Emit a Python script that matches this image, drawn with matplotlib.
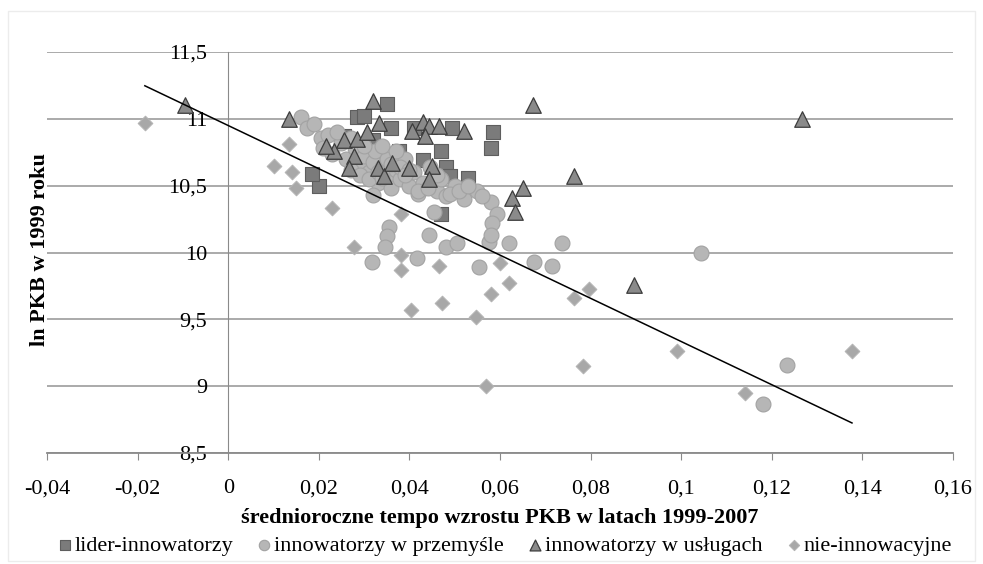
import numpy as np
import matplotlib
matplotlib.use("Agg")
import matplotlib.pyplot as plt
from matplotlib.ticker import FuncFormatter

plt.rcParams['font.family'] = ['Liberation Serif', 'DejaVu Serif']

# lider-innowatorzy (squares)
lider_x = [0.035, 0.0285, 0.030, 0.036, 0.041, 0.0495, 0.0585, 0.058, 0.047, 0.048,
           0.049, 0.053, 0.047, 0.020, 0.0185, 0.0256, 0.032, 0.0377, 0.043, 0.0455, 0.033]
lider_y = [11.11, 11.01, 11.02, 10.93, 10.93, 10.93, 10.90, 10.78, 10.76, 10.64,
           10.57, 10.56, 10.29, 10.50, 10.59, 10.87, 10.84, 10.76, 10.69, 10.54, 10.69]

# innowatorzy w przemyśle (circles)
przem_x = [0.016, 0.0175, 0.019, 0.0205, 0.022, 0.021, 0.023, 0.025, 0.026, 0.028,
           0.029, 0.030, 0.031, 0.032, 0.0325, 0.033, 0.034, 0.035, 0.0355, 0.036,
           0.037, 0.038, 0.039, 0.040, 0.041, 0.042, 0.043, 0.0445, 0.046, 0.047,
           0.048, 0.050, 0.052, 0.055, 0.058, 0.0594, 0.0583, 0.032, 0.0355, 0.035,
           0.0347, 0.0318, 0.0417, 0.0444, 0.048, 0.0505, 0.0554, 0.0576, 0.058, 0.062,
           0.0675, 0.0715, 0.0737, 0.1044, 0.1234, 0.118, 0.042, 0.0455,
           0.027, 0.029, 0.031, 0.033, 0.034, 0.036, 0.038, 0.040, 0.030, 0.034,
           0.037, 0.039, 0.044, 0.046, 0.049, 0.051, 0.053, 0.056, 0.024, 0.027]
przem_y = [11.01, 10.93, 10.96, 10.86, 10.88, 10.78, 10.74, 10.82, 10.70, 10.78,
           10.66, 10.72, 10.60, 10.68, 10.76, 10.52, 10.64, 10.70, 10.58, 10.48,
           10.62, 10.55, 10.70, 10.50, 10.60, 10.44, 10.52, 10.64, 10.46, 10.55,
           10.42, 10.50, 10.40, 10.46, 10.38, 10.29, 10.22, 10.43, 10.19, 10.12,
           10.04, 9.93, 9.96, 10.13, 10.04, 10.07, 9.89, 10.08, 10.13, 10.07,
           9.93, 9.90, 10.07, 10.00, 9.16, 8.87, 10.46, 10.30,
           10.62, 10.58, 10.55, 10.60, 10.56, 10.66, 10.64, 10.62, 10.80, 10.80,
           10.76, 10.58, 10.48, 10.58, 10.44, 10.46, 10.50, 10.42, 10.90, 10.86]

# innowatorzy w usługach (triangles)
uslugi_x = [-0.0095, 0.0135, 0.032, 0.0333, 0.043, 0.0444, 0.0466, 0.052, 0.0406, 0.0435,
            0.0673, 0.1267, 0.0764, 0.065, 0.0627, 0.0633, 0.0896, 0.0234, 0.0256, 0.0285,
            0.0307, 0.0278, 0.0267, 0.033, 0.0344, 0.0362, 0.040, 0.045, 0.0444, 0.0216]
uslugi_y = [11.10, 11.00, 11.13, 10.97, 10.98, 10.95, 10.95, 10.91, 10.91, 10.87,
            11.10, 11.00, 10.57, 10.48, 10.41, 10.30, 9.76, 10.76, 10.84, 10.85,
            10.90, 10.72, 10.63, 10.63, 10.57, 10.67, 10.63, 10.65, 10.55, 10.80]

# nie-innowacyjne (diamonds)
nie_x = [-0.0183, 0.0102, 0.0135, 0.014, 0.015, 0.023, 0.0278, 0.0382, 0.0382, 0.0382,
         0.0466, 0.0404, 0.0472, 0.0547, 0.058, 0.057, 0.062, 0.060, 0.0764, 0.0797,
         0.0784, 0.099, 0.114, 0.1377]
nie_y = [10.97, 10.65, 10.81, 10.60, 10.48, 10.33, 10.04, 10.29, 9.98, 9.87,
         9.90, 9.57, 9.62, 9.52, 9.69, 9.00, 9.77, 9.92, 9.66, 9.73,
         9.15, 9.26, 8.95, 9.26]

# linear trend
trend_a, trend_b = -16.16, 10.95
trend_range = [-0.0184, 0.1377]

labels = ['lider-innowatorzy', 'innowatorzy w przemyśle',
          'innowatorzy w usługach', 'nie-innowacyjne']

fig = plt.figure(figsize=(9.83, 5.64), dpi=100)
ax = fig.add_axes([47/983, 1-453/564, 906/983, 401/564])

h1 = ax.scatter(lider_x, lider_y, marker='s', s=90, c='#7b7b7b', edgecolors='#5e5e5e', lw=0.8, zorder=3)
h2 = ax.scatter(przem_x, przem_y, marker='o', s=115, c='#b6b6b6', edgecolors='#a2a2a2', lw=0.8, zorder=3)
h3 = ax.scatter(uslugi_x, uslugi_y, marker='^', s=125, c='#8a8a8a', edgecolors='#3c3c3c', lw=0.9, zorder=3)
h4 = ax.scatter(nie_x, nie_y, marker='D', s=55, c='#a8a8a8', edgecolors='#b4b4b4', lw=0.8, zorder=3)

tx = np.array(trend_range)
ax.plot(tx, trend_a*tx + trend_b, color='black', lw=1.1, zorder=4)

ax.set_xlim(-0.04, 0.16)
ax.set_ylim(8.5, 11.5)
ax.set_xticks(np.arange(-0.04, 0.161, 0.02))
ax.set_yticks(np.arange(8.5, 11.51, 0.5))
fmt = FuncFormatter(lambda v, p: ('%g' % round(v, 4)).replace('.', ','))
ax.xaxis.set_major_formatter(fmt)
ax.yaxis.set_major_formatter(fmt)

ax.yaxis.grid(True, color='#a4a4a4', lw=1.3)
ax.set_axisbelow(True)
for s in ['top', 'right']:
    ax.spines[s].set_visible(False)
ax.spines['left'].set_position(('data', 0))
ax.spines['left'].set_color('#8a8a8a')
ax.spines['bottom'].set_color('#8a8a8a')
ax.spines['bottom'].set_linewidth(1.3)
ax.tick_params(axis='y', length=0, pad=15, labelsize=16)
ax.tick_params(axis='x', direction='out', length=5, color='#8a8a8a', pad=14, labelsize=16)

fig.text(500/983, 1-518/564, 'średnioroczne tempo wzrostu PKB w latach 1999-2007',
         ha='center', va='center', fontsize=16, fontweight='bold')
fig.text(40/983, 1-250/564, 'ln PKB w 1999 roku', rotation=90,
         ha='center', va='center', fontsize=16, fontweight='bold')

fig.legend([h1, h2, h3, h4], labels, loc='center', bbox_to_anchor=(504/983, 1-546/564),
           ncol=4, frameon=False, fontsize=16, handletextpad=0.05, columnspacing=1.0,
           handlelength=0.8, markerscale=0.7, borderpad=0)

fig.patches.append(plt.Rectangle((0.008, 0.005), 0.984, 0.975, transform=fig.transFigure,
                                 fill=False, edgecolor='#ececec', lw=1))

fig.savefig('out.png', dpi=100)
